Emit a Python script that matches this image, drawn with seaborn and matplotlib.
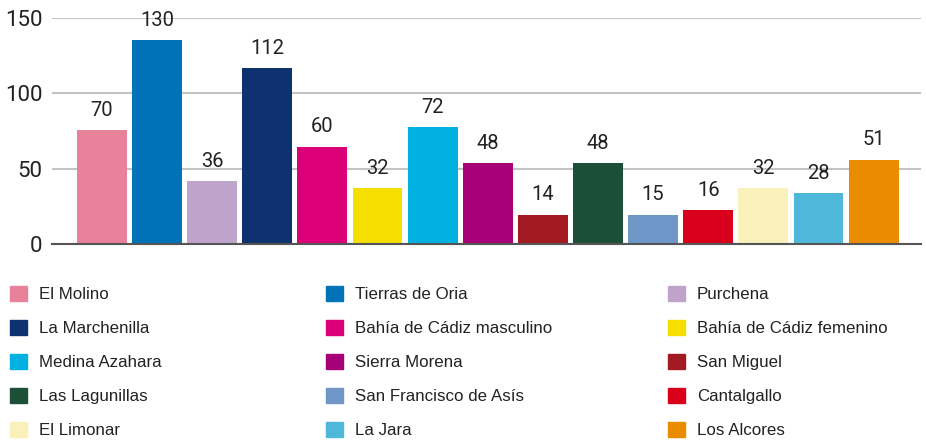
import matplotlib
matplotlib.use('Agg')

import matplotlib.pyplot as plt
import matplotlib.patches as mpatches
import seaborn as sns

# data
names = ['El Molino', 'Tierras de Oria', 'Purchena', 'La Marchenilla',
         'Bahía de Cádiz masculino', 'Bahía de Cádiz femenino', 'Medina Azahara',
         'Sierra Morena', 'San Miguel', 'Las Lagunillas', 'San Francisco de Asís',
         'Cantalgallo', 'El Limonar', 'La Jara', 'Los Alcores']
# printed labels above the bars
values = [70, 130, 36, 112, 60, 32, 72, 48, 14, 48, 15, 16, 32, 28, 51]
# bar heights as drawn (the bars sit a bit higher than their labels)
bar_heights = [75.5, 135, 41.5, 116.5, 64.5, 37, 77.5, 53.5, 19.5, 53.5, 19.5,
               22.5, 37, 33.5, 56]
colors = ['#E8829A', '#0072B8', '#C0A3CB', '#0E3170', '#DC0078', '#F5DE00',
          '#00B0E0', '#A50077', '#A41A22', '#1B4F38', '#6E97C8', '#DA001C',
          '#F9F0BA', '#4DB8DA', '#EA8C00']
yticks = [0, 50, 100, 150]

sns.set_style('white')
plt.rcParams['font.family'] = ['Roboto', 'DejaVu Sans']

fig = plt.figure(figsize=(9.26, 4.4), dpi=100)
ax = fig.add_axes([52/926, 1 - 244/440, (921 - 52)/926, (244 - 17.7)/440])

sns.barplot(x=names, y=bar_heights, hue=names, palette=colors, ax=ax,
            width=0.906, legend=False, saturation=1, linewidth=0)

for cont, v in zip(ax.containers, values):
    ax.bar_label(cont, labels=[str(v)], padding=7.5, fontsize=14.5, color='#222222')

ax.set_ylim(0, 150)
ax.set_xlim(-0.906, 14.86)
ax.set_yticks(yticks)
ax.set_xticks([])
ax.set_xlabel('')
ax.set_ylabel('')
ax.tick_params(axis='y', length=0, pad=7, labelsize=16, labelcolor='#222222')
ax.yaxis.grid(True, color='#c4c4c4', lw=1.5)
ax.set_axisbelow(True)
for s in ['top', 'right', 'left']:
    ax.spines[s].set_visible(False)
ax.spines['bottom'].set_color('#555555')
ax.spines['bottom'].set_linewidth(1.5)

# legend: three columns filled row by row
handles = [mpatches.Patch(color=c) for c in colors]
col_x = [10, 326, 668]
for c in range(3):
    idx = list(range(c, len(names), 3))
    fig.legend([handles[i] for i in idx], [names[i] for i in idx],
               loc='upper left', bbox_to_anchor=(col_x[c]/926, 1 - 286/440),
               frameon=False, borderpad=0, borderaxespad=0,
               handlelength=1.0, handleheight=1.0, handletextpad=0.7,
               labelspacing=1.04, labelcolor='#222222',
               prop={'family': 'Liberation Sans', 'size': 12.2})

fig.savefig('out.png', dpi=100)
